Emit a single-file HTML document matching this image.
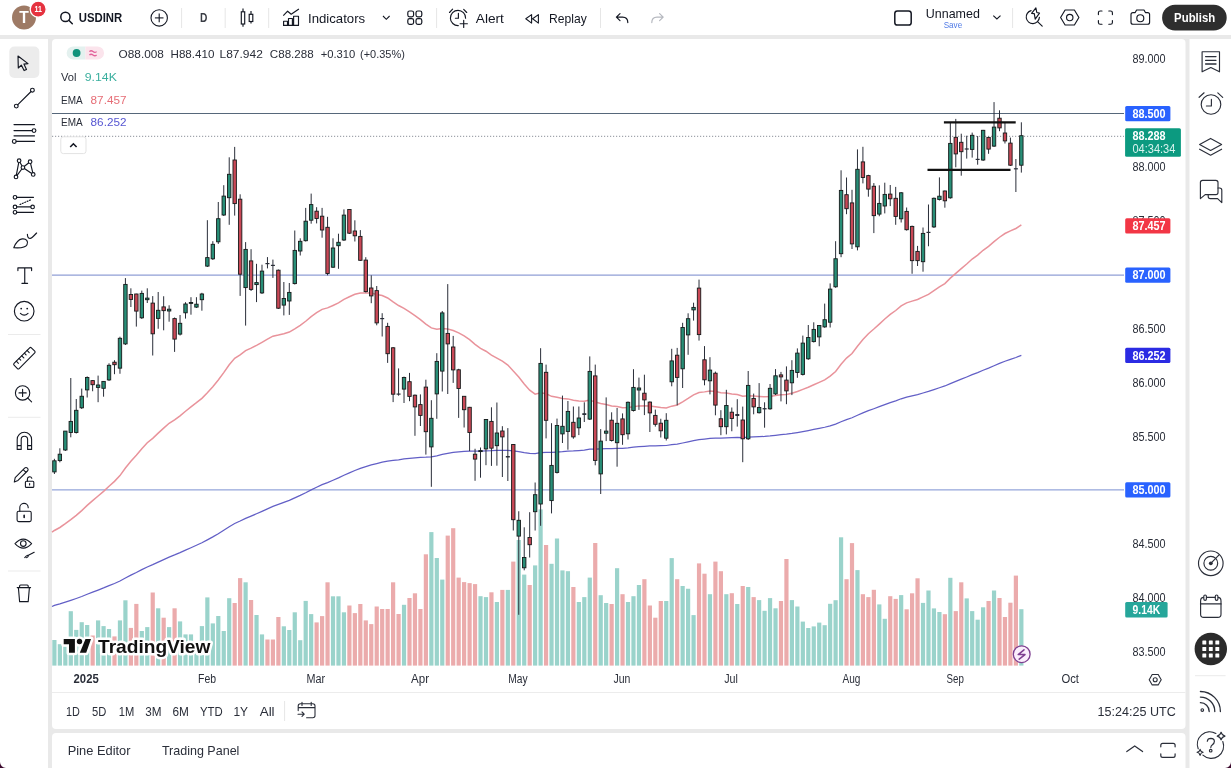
<!DOCTYPE html>
<html><head><meta charset="utf-8"><title>USDINR Chart</title>
<style>
html,body{margin:0;padding:0;width:1231px;height:768px;overflow:hidden;background:#e9e9e9;}
svg{display:block;font-family:"Liberation Sans",sans-serif;will-change:transform;}
</style></head>
<body>
<svg width="1231" height="768" viewBox="0 0 1231 768">
<!-- panels -->
<rect x="0" y="0" width="1231" height="35" fill="#ffffff"/>
<rect x="0" y="39" width="48" height="729" fill="#ffffff"/>
<rect x="52" y="39" width="1133.5" height="690" rx="4" fill="#ffffff"/>
<rect x="52" y="733" width="1133.5" height="40" rx="4" fill="#ffffff"/>
<rect x="1189.5" y="39" width="45" height="729" fill="#ffffff"/>
<line x1="52" y1="692.5" x2="1185.5" y2="692.5" stroke="#ececec" stroke-width="1"/>

<!-- chart content -->
<g id="vol"><rect x="52.3" y="640" width="4.2" height="25.6" fill="#9ad3cb"/>
<rect x="57.76" y="644.2" width="4.2" height="21.4" fill="#9ad3cb"/>
<rect x="63.23" y="646.4" width="4.2" height="19.2" fill="#9ad3cb"/>
<rect x="68.69" y="611.2" width="4.2" height="54.4" fill="#9ad3cb"/>
<rect x="74.15" y="629.9" width="4.2" height="35.7" fill="#9ad3cb"/>
<rect x="79.62" y="622.2" width="4.2" height="43.4" fill="#9ad3cb"/>
<rect x="85.08" y="625" width="4.2" height="40.6" fill="#9ad3cb"/>
<rect x="90.54" y="635.5" width="4.2" height="30.1" fill="#ebabac"/>
<rect x="96" y="620.4" width="4.2" height="45.2" fill="#9ad3cb"/>
<rect x="101.47" y="626.1" width="4.2" height="39.5" fill="#9ad3cb"/>
<rect x="106.93" y="629" width="4.2" height="36.6" fill="#9ad3cb"/>
<rect x="112.39" y="636.4" width="4.2" height="29.2" fill="#ebabac"/>
<rect x="117.86" y="620.4" width="4.2" height="45.2" fill="#9ad3cb"/>
<rect x="123.32" y="600.3" width="4.2" height="65.3" fill="#9ad3cb"/>
<rect x="128.78" y="627.9" width="4.2" height="37.7" fill="#ebabac"/>
<rect x="134.25" y="603.9" width="4.2" height="61.7" fill="#ebabac"/>
<rect x="139.71" y="631" width="4.2" height="34.6" fill="#9ad3cb"/>
<rect x="145.17" y="627.1" width="4.2" height="38.5" fill="#9ad3cb"/>
<rect x="150.63" y="592.5" width="4.2" height="73.1" fill="#ebabac"/>
<rect x="156.1" y="608.3" width="4.2" height="57.3" fill="#9ad3cb"/>
<rect x="161.56" y="617.7" width="4.2" height="47.9" fill="#ebabac"/>
<rect x="167.02" y="627.1" width="4.2" height="38.5" fill="#9ad3cb"/>
<rect x="172.49" y="608.3" width="4.2" height="57.3" fill="#ebabac"/>
<rect x="177.95" y="621.4" width="4.2" height="44.2" fill="#9ad3cb"/>
<rect x="183.41" y="634.4" width="4.2" height="31.2" fill="#9ad3cb"/>
<rect x="188.88" y="634.4" width="4.2" height="31.2" fill="#9ad3cb"/>
<rect x="194.34" y="645" width="4.2" height="20.6" fill="#9ad3cb"/>
<rect x="199.8" y="626.1" width="4.2" height="39.5" fill="#9ad3cb"/>
<rect x="205.26" y="597.4" width="4.2" height="68.2" fill="#9ad3cb"/>
<rect x="210.73" y="623.4" width="4.2" height="42.2" fill="#9ad3cb"/>
<rect x="216.19" y="616" width="4.2" height="49.6" fill="#9ad3cb"/>
<rect x="221.65" y="631" width="4.2" height="34.6" fill="#9ad3cb"/>
<rect x="227.12" y="598.2" width="4.2" height="67.4" fill="#9ad3cb"/>
<rect x="232.58" y="603" width="4.2" height="62.6" fill="#ebabac"/>
<rect x="238.04" y="578.1" width="4.2" height="87.5" fill="#ebabac"/>
<rect x="243.51" y="582.3" width="4.2" height="83.3" fill="#9ad3cb"/>
<rect x="248.97" y="600" width="4.2" height="65.6" fill="#ebabac"/>
<rect x="254.43" y="615" width="4.2" height="50.6" fill="#9ad3cb"/>
<rect x="259.89" y="634.4" width="4.2" height="31.2" fill="#9ad3cb"/>
<rect x="265.36" y="639.5" width="4.2" height="26.1" fill="#ebabac"/>
<rect x="270.82" y="639.5" width="4.2" height="26.1" fill="#ebabac"/>
<rect x="276.28" y="617" width="4.2" height="48.6" fill="#ebabac"/>
<rect x="281.75" y="626.3" width="4.2" height="39.3" fill="#9ad3cb"/>
<rect x="287.21" y="630" width="4.2" height="35.6" fill="#9ad3cb"/>
<rect x="292.67" y="612.3" width="4.2" height="53.3" fill="#9ad3cb"/>
<rect x="298.13" y="640.2" width="4.2" height="25.4" fill="#9ad3cb"/>
<rect x="303.6" y="600.9" width="4.2" height="64.7" fill="#9ad3cb"/>
<rect x="309.06" y="614.1" width="4.2" height="51.5" fill="#9ad3cb"/>
<rect x="314.52" y="622.4" width="4.2" height="43.2" fill="#ebabac"/>
<rect x="319.99" y="616.1" width="4.2" height="49.5" fill="#ebabac"/>
<rect x="325.45" y="582.3" width="4.2" height="83.3" fill="#ebabac"/>
<rect x="330.91" y="596.3" width="4.2" height="69.3" fill="#9ad3cb"/>
<rect x="336.38" y="596.3" width="4.2" height="69.3" fill="#9ad3cb"/>
<rect x="341.84" y="612.3" width="4.2" height="53.3" fill="#9ad3cb"/>
<rect x="347.3" y="605.5" width="4.2" height="60.1" fill="#ebabac"/>
<rect x="352.76" y="613.1" width="4.2" height="52.5" fill="#ebabac"/>
<rect x="358.23" y="604" width="4.2" height="61.6" fill="#ebabac"/>
<rect x="363.69" y="620.4" width="4.2" height="45.2" fill="#ebabac"/>
<rect x="369.15" y="624.1" width="4.2" height="41.5" fill="#ebabac"/>
<rect x="374.62" y="606.5" width="4.2" height="59.1" fill="#ebabac"/>
<rect x="380.08" y="609" width="4.2" height="56.6" fill="#ebabac"/>
<rect x="385.54" y="609" width="4.2" height="56.6" fill="#ebabac"/>
<rect x="391.01" y="582.3" width="4.2" height="83.3" fill="#ebabac"/>
<rect x="396.47" y="614" width="4.2" height="51.6" fill="#ebabac"/>
<rect x="401.93" y="604.8" width="4.2" height="60.8" fill="#9ad3cb"/>
<rect x="407.39" y="598" width="4.2" height="67.6" fill="#ebabac"/>
<rect x="412.86" y="593.3" width="4.2" height="72.3" fill="#ebabac"/>
<rect x="418.32" y="609" width="4.2" height="56.6" fill="#ebabac"/>
<rect x="423.78" y="554.3" width="4.2" height="111.3" fill="#ebabac"/>
<rect x="429.25" y="532.1" width="4.2" height="133.5" fill="#9ad3cb"/>
<rect x="434.71" y="558" width="4.2" height="107.6" fill="#9ad3cb"/>
<rect x="440.17" y="579.6" width="4.2" height="86" fill="#9ad3cb"/>
<rect x="445.64" y="535.6" width="4.2" height="130" fill="#ebabac"/>
<rect x="451.1" y="528.2" width="4.2" height="137.4" fill="#ebabac"/>
<rect x="456.56" y="577.6" width="4.2" height="88" fill="#ebabac"/>
<rect x="462.02" y="582.1" width="4.2" height="83.5" fill="#ebabac"/>
<rect x="467.49" y="583.1" width="4.2" height="82.5" fill="#ebabac"/>
<rect x="472.95" y="584.1" width="4.2" height="81.5" fill="#ebabac"/>
<rect x="478.41" y="596.2" width="4.2" height="69.4" fill="#9ad3cb"/>
<rect x="483.88" y="597.1" width="4.2" height="68.5" fill="#9ad3cb"/>
<rect x="489.34" y="592.3" width="4.2" height="73.3" fill="#ebabac"/>
<rect x="494.8" y="602" width="4.2" height="63.6" fill="#9ad3cb"/>
<rect x="500.27" y="589.9" width="4.2" height="75.7" fill="#ebabac"/>
<rect x="505.73" y="589.9" width="4.2" height="75.7" fill="#9ad3cb"/>
<rect x="511.19" y="561.6" width="4.2" height="104" fill="#ebabac"/>
<rect x="516.65" y="540" width="4.2" height="125.6" fill="#9ad3cb"/>
<rect x="522.12" y="574.6" width="4.2" height="91" fill="#9ad3cb"/>
<rect x="527.58" y="585" width="4.2" height="80.6" fill="#ebabac"/>
<rect x="533.04" y="565.4" width="4.2" height="100.2" fill="#9ad3cb"/>
<rect x="538.51" y="509.4" width="4.2" height="156.2" fill="#9ad3cb"/>
<rect x="543.97" y="545" width="4.2" height="120.6" fill="#ebabac"/>
<rect x="549.43" y="563.8" width="4.2" height="101.8" fill="#9ad3cb"/>
<rect x="554.9" y="538.5" width="4.2" height="127.1" fill="#9ad3cb"/>
<rect x="560.36" y="570.4" width="4.2" height="95.2" fill="#9ad3cb"/>
<rect x="565.82" y="571.2" width="4.2" height="94.4" fill="#9ad3cb"/>
<rect x="571.28" y="587" width="4.2" height="78.6" fill="#ebabac"/>
<rect x="576.75" y="602" width="4.2" height="63.6" fill="#9ad3cb"/>
<rect x="582.21" y="597.1" width="4.2" height="68.5" fill="#9ad3cb"/>
<rect x="587.67" y="577.6" width="4.2" height="88" fill="#9ad3cb"/>
<rect x="593.14" y="543" width="4.2" height="122.6" fill="#ebabac"/>
<rect x="598.6" y="595.2" width="4.2" height="70.4" fill="#9ad3cb"/>
<rect x="604.06" y="603" width="4.2" height="62.6" fill="#9ad3cb"/>
<rect x="609.53" y="604" width="4.2" height="61.6" fill="#ebabac"/>
<rect x="614.99" y="568.2" width="4.2" height="97.4" fill="#9ad3cb"/>
<rect x="620.45" y="594.2" width="4.2" height="71.4" fill="#ebabac"/>
<rect x="625.91" y="602" width="4.2" height="63.6" fill="#9ad3cb"/>
<rect x="631.38" y="596.2" width="4.2" height="69.4" fill="#9ad3cb"/>
<rect x="636.84" y="585" width="4.2" height="80.6" fill="#9ad3cb"/>
<rect x="642.3" y="579.2" width="4.2" height="86.4" fill="#ebabac"/>
<rect x="647.77" y="605.5" width="4.2" height="60.1" fill="#ebabac"/>
<rect x="653.23" y="617.7" width="4.2" height="47.9" fill="#ebabac"/>
<rect x="658.69" y="601" width="4.2" height="64.6" fill="#ebabac"/>
<rect x="664.16" y="601" width="4.2" height="64.6" fill="#9ad3cb"/>
<rect x="669.62" y="558.1" width="4.2" height="107.5" fill="#9ad3cb"/>
<rect x="675.08" y="579.2" width="4.2" height="86.4" fill="#ebabac"/>
<rect x="680.54" y="586" width="4.2" height="79.6" fill="#9ad3cb"/>
<rect x="686.01" y="588.75" width="4.2" height="76.85" fill="#9ad3cb"/>
<rect x="691.47" y="615.1" width="4.2" height="50.5" fill="#9ad3cb"/>
<rect x="696.93" y="563.4" width="4.2" height="102.2" fill="#ebabac"/>
<rect x="702.4" y="573.7" width="4.2" height="91.9" fill="#ebabac"/>
<rect x="707.86" y="594.2" width="4.2" height="71.4" fill="#9ad3cb"/>
<rect x="713.32" y="561.6" width="4.2" height="104" fill="#ebabac"/>
<rect x="718.79" y="571.2" width="4.2" height="94.4" fill="#ebabac"/>
<rect x="724.25" y="594.2" width="4.2" height="71.4" fill="#9ad3cb"/>
<rect x="729.71" y="593.2" width="4.2" height="72.4" fill="#ebabac"/>
<rect x="735.17" y="604" width="4.2" height="61.6" fill="#9ad3cb"/>
<rect x="740.64" y="586" width="4.2" height="79.6" fill="#ebabac"/>
<rect x="746.1" y="587" width="4.2" height="78.6" fill="#9ad3cb"/>
<rect x="751.56" y="597.1" width="4.2" height="68.5" fill="#ebabac"/>
<rect x="757.03" y="600.1" width="4.2" height="65.5" fill="#9ad3cb"/>
<rect x="762.49" y="610.8" width="4.2" height="54.8" fill="#9ad3cb"/>
<rect x="767.95" y="598.1" width="4.2" height="67.5" fill="#9ad3cb"/>
<rect x="773.42" y="608.3" width="4.2" height="57.3" fill="#9ad3cb"/>
<rect x="778.88" y="601" width="4.2" height="64.6" fill="#ebabac"/>
<rect x="784.34" y="559" width="4.2" height="106.6" fill="#ebabac"/>
<rect x="789.8" y="600.1" width="4.2" height="65.5" fill="#9ad3cb"/>
<rect x="795.27" y="606.5" width="4.2" height="59.1" fill="#9ad3cb"/>
<rect x="800.73" y="621.6" width="4.2" height="44" fill="#9ad3cb"/>
<rect x="806.19" y="628" width="4.2" height="37.6" fill="#9ad3cb"/>
<rect x="811.66" y="626.4" width="4.2" height="39.2" fill="#9ad3cb"/>
<rect x="817.12" y="622.6" width="4.2" height="43" fill="#9ad3cb"/>
<rect x="822.58" y="625.2" width="4.2" height="40.4" fill="#9ad3cb"/>
<rect x="828.05" y="603.8" width="4.2" height="61.8" fill="#9ad3cb"/>
<rect x="833.51" y="600.2" width="4.2" height="65.4" fill="#9ad3cb"/>
<rect x="838.97" y="537.3" width="4.2" height="128.3" fill="#9ad3cb"/>
<rect x="844.43" y="579.2" width="4.2" height="86.4" fill="#ebabac"/>
<rect x="849.9" y="543.1" width="4.2" height="122.5" fill="#ebabac"/>
<rect x="855.36" y="570.1" width="4.2" height="95.5" fill="#9ad3cb"/>
<rect x="860.82" y="594.2" width="4.2" height="71.4" fill="#ebabac"/>
<rect x="866.29" y="597.1" width="4.2" height="68.5" fill="#ebabac"/>
<rect x="871.75" y="589.8" width="4.2" height="75.8" fill="#ebabac"/>
<rect x="877.21" y="604.4" width="4.2" height="61.2" fill="#9ad3cb"/>
<rect x="882.68" y="618.8" width="4.2" height="46.8" fill="#9ad3cb"/>
<rect x="888.14" y="596.2" width="4.2" height="69.4" fill="#ebabac"/>
<rect x="893.6" y="598.9" width="4.2" height="66.7" fill="#ebabac"/>
<rect x="899.06" y="595.1" width="4.2" height="70.5" fill="#9ad3cb"/>
<rect x="904.53" y="609.3" width="4.2" height="56.3" fill="#ebabac"/>
<rect x="909.99" y="593.3" width="4.2" height="72.3" fill="#ebabac"/>
<rect x="915.45" y="578.3" width="4.2" height="87.3" fill="#ebabac"/>
<rect x="920.92" y="602.9" width="4.2" height="62.7" fill="#9ad3cb"/>
<rect x="926.38" y="590.5" width="4.2" height="75.1" fill="#9ad3cb"/>
<rect x="931.84" y="608.4" width="4.2" height="57.2" fill="#9ad3cb"/>
<rect x="937.31" y="612" width="4.2" height="53.6" fill="#9ad3cb"/>
<rect x="942.77" y="614.2" width="4.2" height="51.4" fill="#ebabac"/>
<rect x="948.23" y="577.8" width="4.2" height="87.8" fill="#9ad3cb"/>
<rect x="953.69" y="611.1" width="4.2" height="54.5" fill="#ebabac"/>
<rect x="959.16" y="582.3" width="4.2" height="83.3" fill="#ebabac"/>
<rect x="964.62" y="598.4" width="4.2" height="67.2" fill="#9ad3cb"/>
<rect x="970.08" y="611.1" width="4.2" height="54.5" fill="#9ad3cb"/>
<rect x="975.55" y="619.7" width="4.2" height="45.9" fill="#9ad3cb"/>
<rect x="981.01" y="607.3" width="4.2" height="58.3" fill="#9ad3cb"/>
<rect x="986.47" y="601" width="4.2" height="64.6" fill="#ebabac"/>
<rect x="991.94" y="590.5" width="4.2" height="75.1" fill="#9ad3cb"/>
<rect x="997.4" y="598" width="4.2" height="67.6" fill="#ebabac"/>
<rect x="1002.86" y="617" width="4.2" height="48.6" fill="#ebabac"/>
<rect x="1008.32" y="602.7" width="4.2" height="62.9" fill="#ebabac"/>
<rect x="1013.79" y="575.6" width="4.2" height="90" fill="#ebabac"/>
<rect x="1019.25" y="609.2" width="4.2" height="56.4" fill="#9ad3cb"/></g>
<!-- horizontal lines -->
<line x1="52" y1="113.5" x2="1124" y2="113.5" stroke="#56677a" stroke-width="1"/>
<line x1="52" y1="275.1" x2="1124" y2="275.1" stroke="#7486cc" stroke-width="1"/>
<line x1="52" y1="489.9" x2="1124" y2="489.9" stroke="#7b8fd2" stroke-width="1"/>
<line x1="52" y1="136.3" x2="1124" y2="136.3" stroke="#8b9099" stroke-width="1" stroke-dasharray="1.2 1.8"/>
<!-- EMAs -->
<path d="M52 532.2 L54.4 530.49 L59.86 527.49 L65.33 523.72 L70.79 519.67 L76.25 515.34 L81.72 510.63 L87.18 505.38 L92.64 500.59 L98.1 495.95 L103.57 491.34 L109.03 486.28 L114.49 481.39 L119.96 475.62 L125.42 467.99 L130.88 461.26 L136.34 455.23 L141.81 448.74 L147.27 442.71 L152.73 438.32 L158.2 433.13 L163.66 428.17 L169.12 423.31 L174.59 419.81 L180.05 415.81 L185.51 411.25 L190.97 406.86 L196.44 402.71 L201.9 398.36 L207.36 392.75 L212.83 386.79 L218.29 380.04 L223.75 372.67 L229.22 364.74 L234.68 358.28 L240.14 354.9 L245.61 350.61 L251.07 348.06 L256.53 345.31 L261.99 342.29 L267.46 339.14 L272.92 336.2 L278.38 335.1 L283.85 333.66 L289.31 332.04 L294.77 328.78 L300.24 325.33 L305.7 321.26 L311.16 316.64 L316.62 312.72 L322.09 309.38 L327.55 307.91 L333.01 305.45 L338.48 302.9 L343.94 299.39 L349.4 296.77 L354.87 294.32 L360.33 292.95 L365.79 292.91 L371.25 293.12 L376.72 294.44 L382.18 295.53 L387.64 297.98 L393.11 301.86 L398.57 305.5 L404.03 308.35 L409.5 311.82 L414.96 315.62 L420.42 319.65 L425.88 324.18 L431.35 327.89 L436.81 329.17 L442.27 328.44 L447.74 328.97 L453.2 330.54 L458.66 332.85 L464.12 335.94 L469.59 339.7 L475.05 344.33 L480.51 348.46 L485.98 351.26 L491.44 355.08 L496.9 358.12 L502.37 361.22 L507.83 365.01 L513.29 371.1 L518.75 376.92 L524.22 383.98 L529.68 390.21 L535.14 394.19 L540.61 392.79 L546.07 393.69 L551.53 396.32 L557 397.34 L562.46 398.4 L567.92 398.88 L573.38 400.33 L578.85 400.94 L584.31 401.29 L589.77 399.93 L595.24 402.09 L600.7 403.48 L606.16 404.48 L611.63 405.91 L617.09 406.61 L622.55 407.72 L628.01 407.47 L633.48 406.64 L638.94 405.88 L644.4 405.66 L649.87 405.95 L655.33 406.66 L660.79 407.58 L666.26 408.06 L671.72 406.16 L677.18 404.94 L682.64 401.81 L688.11 398.49 L693.57 394.86 L699.03 392.45 L704.5 391.88 L709.96 390.92 L715.42 391.39 L720.89 392.67 L726.35 393.02 L731.81 393.89 L737.27 394.55 L742.74 396.15 L748.2 395.63 L753.66 396.02 L759.13 396.41 L764.59 396.87 L770.05 396.43 L775.52 395.52 L780.98 394.69 L786.44 394.44 L791.9 393.3 L797.37 391.5 L802.83 389.41 L808.29 387.22 L813.76 384.81 L819.22 382.38 L824.68 379.82 L830.15 376.18 L835.61 371.45 L841.07 364.25 L846.53 358.07 L852 353.55 L857.46 346.26 L862.92 339.6 L868.39 333.67 L873.85 329.05 L879.31 324.12 L884.78 319.04 L890.24 314.36 L895.7 310.5 L901.16 305.84 L906.63 302.82 L912.09 301.14 L917.55 299.49 L923.02 296.91 L928.48 294.36 L933.94 290.58 L939.41 286.96 L944.87 283.64 L950.33 278.17 L955.79 273.34 L961.26 268.67 L966.72 264.02 L972.18 259.02 L977.65 255.14 L983.11 250.28 L988.57 246.33 L994.04 241.66 L999.5 237.24 L1004.96 233.52 L1010.42 230.89 L1015.89 228.48 L1021.35 224.87" fill="none" stroke="#e9939b" stroke-width="1.5"/>
<path d="M52 606.5 L54.4 605.45 L59.86 603.94 L65.33 602.22 L70.79 600.41 L76.25 598.5 L81.72 596.47 L87.18 594.27 L92.64 592.16 L98.1 590.06 L103.57 587.95 L109.03 585.69 L114.49 583.46 L119.96 580.98 L125.42 578 L130.88 575.18 L136.34 572.51 L141.81 569.68 L147.27 566.95 L152.73 564.61 L158.2 562.07 L163.66 559.58 L169.12 557.09 L174.59 554.93 L180.05 552.62 L185.51 550.16 L190.97 547.7 L196.44 545.27 L201.9 542.74 L207.36 539.86 L212.83 536.88 L218.29 533.67 L223.75 530.28 L229.22 526.72 L234.68 523.5 L240.14 521.03 L245.61 518.32 L251.07 516.05 L256.53 513.72 L261.99 511.31 L267.46 508.85 L272.92 506.42 L278.38 504.45 L283.85 502.42 L289.31 500.36 L294.77 497.91 L300.24 495.41 L305.7 492.74 L311.16 489.9 L316.62 487.22 L322.09 484.67 L327.55 482.58 L333.01 480.25 L338.48 477.89 L343.94 475.28 L349.4 472.88 L354.87 470.5 L360.33 468.4 L365.79 466.65 L371.25 464.96 L376.72 463.59 L382.18 462.17 L387.64 461.12 L393.11 460.46 L398.57 459.78 L404.03 458.95 L409.5 458.33 L414.96 457.83 L420.42 457.45 L425.88 457.23 L431.35 456.85 L436.81 455.91 L442.27 454.47 L447.74 453.35 L453.2 452.49 L458.66 451.83 L464.12 451.38 L469.59 451.14 L475.05 451.16 L480.51 451.1 L485.98 450.76 L491.44 450.71 L496.9 450.48 L502.37 450.3 L507.83 450.32 L513.29 450.95 L518.75 451.58 L524.22 452.56 L529.68 453.4 L535.14 453.73 L540.61 452.74 L546.07 452.32 L551.53 452.36 L557 452.01 L562.46 451.69 L567.92 451.21 L573.38 450.97 L578.85 450.53 L584.31 450.03 L589.77 449.11 L595.24 449.09 L600.7 448.92 L606.16 448.68 L611.63 448.58 L617.09 448.35 L622.55 448.26 L628.01 447.82 L633.48 447.24 L638.94 446.68 L644.4 446.26 L649.87 445.98 L655.33 445.81 L660.79 445.7 L666.26 445.5 L671.72 444.72 L677.18 444.1 L682.64 443 L688.11 441.83 L693.57 440.56 L699.03 439.58 L704.5 439.06 L709.96 438.43 L715.42 438.17 L720.89 438.11 L726.35 437.83 L731.81 437.68 L737.27 437.49 L742.74 437.56 L748.2 437.1 L753.66 436.87 L759.13 436.63 L764.59 436.39 L770.05 435.91 L775.52 435.29 L780.98 434.68 L786.44 434.19 L791.9 433.47 L797.37 432.57 L802.83 431.58 L808.29 430.55 L813.76 429.46 L819.22 428.37 L824.68 427.24 L830.15 425.83 L835.61 424.12 L841.07 421.74 L846.53 419.58 L852 417.79 L857.46 415.28 L862.92 412.89 L868.39 410.66 L873.85 408.73 L879.31 406.71 L884.78 404.63 L890.24 402.62 L895.7 400.81 L901.16 398.78 L906.63 397.15 L912.09 395.84 L917.55 394.55 L923.02 393 L928.48 391.45 L933.94 389.58 L939.41 387.73 L944.87 385.96 L950.33 383.61 L955.79 381.4 L961.26 379.2 L966.72 376.99 L972.18 374.67 L977.65 372.61 L983.11 370.27 L988.57 368.12 L994.04 365.76 L999.5 363.44 L1004.96 361.27 L1010.42 359.37 L1015.89 357.51 L1021.35 355.34" fill="none" stroke="#625fc6" stroke-width="1.25"/>
<g id="candles"><g stroke="#2a2e39" stroke-width="1"><line x1="54.4" y1="458.8" x2="54.4" y2="474"/><line x1="59.86" y1="448.3" x2="59.86" y2="462.3"/><line x1="65.33" y1="431" x2="65.33" y2="451"/><line x1="70.79" y1="378" x2="70.79" y2="437.3"/><line x1="76.25" y1="399" x2="76.25" y2="433.5"/><line x1="81.72" y1="388.6" x2="81.72" y2="409"/><line x1="87.18" y1="376.4" x2="87.18" y2="397.5"/><line x1="92.64" y1="380" x2="92.64" y2="391.25"/><line x1="98.1" y1="375.6" x2="98.1" y2="402.2"/><line x1="103.57" y1="381" x2="103.57" y2="396.7"/><line x1="109.03" y1="363.3" x2="109.03" y2="381"/><line x1="114.49" y1="360.2" x2="114.49" y2="374.2"/><line x1="119.96" y1="336.7" x2="119.96" y2="373.75"/><line x1="125.42" y1="278.1" x2="125.42" y2="345"/><line x1="130.88" y1="288.3" x2="130.88" y2="307"/><line x1="136.34" y1="293.75" x2="136.34" y2="326.6"/><line x1="141.81" y1="290.6" x2="141.81" y2="319"/><line x1="147.27" y1="288.3" x2="147.27" y2="303"/><line x1="152.73" y1="296.1" x2="152.73" y2="355.5"/><line x1="158.2" y1="292" x2="158.2" y2="328.75"/><line x1="163.66" y1="296.25" x2="163.66" y2="330.3"/><line x1="169.12" y1="305.3" x2="169.12" y2="321.7"/><line x1="174.59" y1="317.5" x2="174.59" y2="351.9"/><line x1="180.05" y1="315" x2="180.05" y2="335.5"/><line x1="185.51" y1="302.2" x2="185.51" y2="318.6"/><line x1="190.97" y1="297.2" x2="190.97" y2="314.7"/><line x1="196.44" y1="297.2" x2="196.44" y2="308"/><line x1="201.9" y1="292.8" x2="201.9" y2="310.7"/><line x1="207.36" y1="220.2" x2="207.36" y2="267"/><line x1="212.83" y1="241.2" x2="212.83" y2="260"/><line x1="218.29" y1="202" x2="218.29" y2="243.9"/><line x1="223.75" y1="185.2" x2="223.75" y2="216"/><line x1="229.22" y1="157.3" x2="229.22" y2="224.8"/><line x1="234.68" y1="146.9" x2="234.68" y2="215.6"/><line x1="240.14" y1="194.3" x2="240.14" y2="295.9"/><line x1="245.61" y1="242.1" x2="245.61" y2="325.6"/><line x1="251.07" y1="249.2" x2="251.07" y2="291"/><line x1="256.53" y1="263.8" x2="256.53" y2="302.1"/><line x1="261.99" y1="264.7" x2="261.99" y2="294"/><line x1="267.46" y1="257.1" x2="267.46" y2="268.4"/><line x1="272.92" y1="259.6" x2="272.92" y2="277.9"/><line x1="278.38" y1="269.5" x2="278.38" y2="309"/><line x1="283.85" y1="282" x2="283.85" y2="315.4"/><line x1="289.31" y1="283" x2="289.31" y2="314.9"/><line x1="294.77" y1="230.5" x2="294.77" y2="284.5"/><line x1="300.24" y1="238.3" x2="300.24" y2="255.5"/><line x1="305.7" y1="207.9" x2="305.7" y2="241.5"/><line x1="311.16" y1="193.6" x2="311.16" y2="223.7"/><line x1="316.62" y1="207.2" x2="316.62" y2="223.4"/><line x1="322.09" y1="207.9" x2="322.09" y2="237.7"/><line x1="327.55" y1="216.8" x2="327.55" y2="275.3"/><line x1="333.01" y1="238.3" x2="333.01" y2="268"/><line x1="338.48" y1="233.7" x2="338.48" y2="268.8"/><line x1="343.94" y1="209.4" x2="343.94" y2="241"/><line x1="349.4" y1="209.3" x2="349.4" y2="234"/><line x1="354.87" y1="220.3" x2="354.87" y2="241.5"/><line x1="360.33" y1="230.1" x2="360.33" y2="261"/><line x1="365.79" y1="257.2" x2="365.79" y2="292.5"/><line x1="371.25" y1="275.3" x2="371.25" y2="303.2"/><line x1="376.72" y1="286" x2="376.72" y2="325.3"/><line x1="382.18" y1="313.2" x2="382.18" y2="336.5"/><line x1="387.64" y1="322.8" x2="387.64" y2="362.9"/><line x1="393.11" y1="347" x2="393.11" y2="402.1"/><line x1="398.57" y1="368.4" x2="398.57" y2="395.7"/><line x1="404.03" y1="376.6" x2="404.03" y2="403"/><line x1="409.5" y1="372.9" x2="409.5" y2="401.2"/><line x1="414.96" y1="394.5" x2="414.96" y2="435.8"/><line x1="420.42" y1="394.4" x2="420.42" y2="426"/><line x1="425.88" y1="379.7" x2="425.88" y2="454.6"/><line x1="431.35" y1="400.2" x2="431.35" y2="486.8"/><line x1="436.81" y1="353.2" x2="436.81" y2="418.8"/><line x1="442.27" y1="311" x2="442.27" y2="391.5"/><line x1="447.74" y1="284.1" x2="447.74" y2="394"/><line x1="453.2" y1="335.9" x2="453.2" y2="382.9"/><line x1="458.66" y1="368.8" x2="458.66" y2="417.9"/><line x1="464.12" y1="396" x2="464.12" y2="427.5"/><line x1="469.59" y1="406.9" x2="469.59" y2="451.1"/><line x1="475.05" y1="448.75" x2="475.05" y2="480.8"/><line x1="480.51" y1="447.5" x2="480.51" y2="477.7"/><line x1="485.98" y1="419" x2="485.98" y2="465.2"/><line x1="491.44" y1="407.3" x2="491.44" y2="465.9"/><line x1="496.9" y1="402.5" x2="496.9" y2="465.7"/><line x1="502.37" y1="426.2" x2="502.37" y2="477"/><line x1="507.83" y1="428.1" x2="507.83" y2="481"/><line x1="513.29" y1="444" x2="513.29" y2="530.5"/><line x1="518.75" y1="511.25" x2="518.75" y2="614.8"/><line x1="524.22" y1="527.3" x2="524.22" y2="570.3"/><line x1="529.68" y1="512.2" x2="529.68" y2="557.5"/><line x1="535.14" y1="482.5" x2="535.14" y2="530.5"/><line x1="540.61" y1="348.2" x2="540.61" y2="525.8"/><line x1="546.07" y1="364.6" x2="546.07" y2="438.4"/><line x1="551.53" y1="423.2" x2="551.53" y2="513.4"/><line x1="557" y1="418.6" x2="557" y2="473.5"/><line x1="562.46" y1="395.6" x2="562.46" y2="443"/><line x1="567.92" y1="401" x2="567.92" y2="449.7"/><line x1="573.38" y1="406.5" x2="573.38" y2="438.7"/><line x1="578.85" y1="406.5" x2="578.85" y2="435.1"/><line x1="584.31" y1="402.3" x2="584.31" y2="422"/><line x1="589.77" y1="356.4" x2="589.77" y2="420"/><line x1="595.24" y1="364.6" x2="595.24" y2="465.3"/><line x1="600.7" y1="429.1" x2="600.7" y2="494"/><line x1="606.16" y1="397.4" x2="606.16" y2="441.1"/><line x1="611.63" y1="412.3" x2="611.63" y2="441.5"/><line x1="617.09" y1="408" x2="617.09" y2="466.7"/><line x1="622.55" y1="413.4" x2="622.55" y2="444.8"/><line x1="628.01" y1="401.5" x2="628.01" y2="439.5"/><line x1="633.48" y1="369.2" x2="633.48" y2="411.5"/><line x1="638.94" y1="377.6" x2="638.94" y2="409.9"/><line x1="644.4" y1="374.7" x2="644.4" y2="415.1"/><line x1="649.87" y1="401.4" x2="649.87" y2="432"/><line x1="655.33" y1="409.6" x2="655.33" y2="426.6"/><line x1="660.79" y1="418.75" x2="660.79" y2="437.5"/><line x1="666.26" y1="413.2" x2="666.26" y2="440.5"/><line x1="671.72" y1="348.8" x2="671.72" y2="386.3"/><line x1="677.18" y1="347.9" x2="677.18" y2="405.3"/><line x1="682.64" y1="322.8" x2="682.64" y2="388"/><line x1="688.11" y1="313.3" x2="688.11" y2="354.8"/><line x1="693.57" y1="302.7" x2="693.57" y2="320.6"/><line x1="699.03" y1="279.6" x2="699.03" y2="340.6"/><line x1="704.5" y1="346.1" x2="704.5" y2="385.3"/><line x1="709.96" y1="357.2" x2="709.96" y2="394.4"/><line x1="715.42" y1="371.6" x2="715.42" y2="415.3"/><line x1="720.89" y1="410.2" x2="720.89" y2="435.2"/><line x1="726.35" y1="389.8" x2="726.35" y2="434.4"/><line x1="731.81" y1="407.5" x2="731.81" y2="431.25"/><line x1="737.27" y1="399.2" x2="737.27" y2="426.6"/><line x1="742.74" y1="406.6" x2="742.74" y2="462.2"/><line x1="748.2" y1="371" x2="748.2" y2="440"/><line x1="753.66" y1="393.6" x2="753.66" y2="414.3"/><line x1="759.13" y1="383.1" x2="759.13" y2="413.5"/><line x1="764.59" y1="402.3" x2="764.59" y2="427.7"/><line x1="770.05" y1="384" x2="770.05" y2="409.8"/><line x1="775.52" y1="369.1" x2="775.52" y2="395"/><line x1="780.98" y1="371.9" x2="780.98" y2="401.4"/><line x1="786.44" y1="366.4" x2="786.44" y2="404.2"/><line x1="791.9" y1="360.2" x2="791.9" y2="395.1"/><line x1="797.37" y1="348.4" x2="797.37" y2="377.8"/><line x1="802.83" y1="335.6" x2="802.83" y2="375.5"/><line x1="808.29" y1="325" x2="808.29" y2="359.8"/><line x1="813.76" y1="322.3" x2="813.76" y2="342.5"/><line x1="819.22" y1="325" x2="819.22" y2="346.25"/><line x1="824.68" y1="303.6" x2="824.68" y2="327.8"/><line x1="830.15" y1="283.4" x2="830.15" y2="327.5"/><line x1="835.61" y1="241.2" x2="835.61" y2="287.8"/><line x1="841.07" y1="170.3" x2="841.07" y2="257.2"/><line x1="846.53" y1="177.5" x2="846.53" y2="214.2"/><line x1="852" y1="189.8" x2="852" y2="249"/><line x1="857.46" y1="149.4" x2="857.46" y2="250.4"/><line x1="862.92" y1="146.8" x2="862.92" y2="183.4"/><line x1="868.39" y1="174.8" x2="868.39" y2="196.7"/><line x1="873.85" y1="183.1" x2="873.85" y2="233.1"/><line x1="879.31" y1="185.3" x2="879.31" y2="216.25"/><line x1="884.78" y1="182.7" x2="884.78" y2="213.4"/><line x1="890.24" y1="185" x2="890.24" y2="206.1"/><line x1="895.7" y1="186.9" x2="895.7" y2="224.8"/><line x1="901.16" y1="192" x2="901.16" y2="222.5"/><line x1="906.63" y1="207.5" x2="906.63" y2="230.6"/><line x1="912.09" y1="225.6" x2="912.09" y2="273.75"/><line x1="917.55" y1="245.9" x2="917.55" y2="266"/><line x1="923.02" y1="227.5" x2="923.02" y2="271.7"/><line x1="928.48" y1="204.5" x2="928.48" y2="246.25"/><line x1="933.94" y1="197.5" x2="933.94" y2="228"/><line x1="939.41" y1="177.4" x2="939.41" y2="200.5"/><line x1="944.87" y1="190.5" x2="944.87" y2="207.7"/><line x1="950.33" y1="122.4" x2="950.33" y2="198.7"/><line x1="955.79" y1="118.9" x2="955.79" y2="167.3"/><line x1="961.26" y1="133.7" x2="961.26" y2="175.7"/><line x1="966.72" y1="135.7" x2="966.72" y2="158.6"/><line x1="972.18" y1="132.6" x2="972.18" y2="157.6"/><line x1="977.65" y1="136" x2="977.65" y2="164.7"/><line x1="983.11" y1="129.9" x2="983.11" y2="161"/><line x1="988.57" y1="136.7" x2="988.57" y2="153.8"/><line x1="994.04" y1="102.1" x2="994.04" y2="147"/><line x1="999.5" y1="110.3" x2="999.5" y2="131.2"/><line x1="1004.96" y1="122.3" x2="1004.96" y2="143.5"/><line x1="1010.42" y1="137.6" x2="1010.42" y2="166"/><line x1="1015.89" y1="159" x2="1015.89" y2="192"/><line x1="1021.35" y1="122.3" x2="1021.35" y2="172.6"/></g><g stroke="#161a1a" stroke-width="0.9"><rect x="52.7" y="460.8" width="3.4" height="11.1" fill="#288e77"/><rect x="58.16" y="454.2" width="3.4" height="6.4" fill="#288e77"/><rect x="63.63" y="431.1" width="3.4" height="18.9" fill="#288e77"/><rect x="69.09" y="421.4" width="3.4" height="11.1" fill="#288e77"/><rect x="74.55" y="410.3" width="3.4" height="22.2" fill="#288e77"/><rect x="80.02" y="396.25" width="3.4" height="11.55" fill="#288e77"/><rect x="85.48" y="377.5" width="3.4" height="12.4" fill="#288e77"/><rect x="90.94" y="380.6" width="3.4" height="4.1" fill="#c94856"/><rect x="96.4" y="385" width="3.4" height="2.4" fill="#288e77"/><rect x="101.87" y="381.4" width="3.4" height="6.9" fill="#288e77"/><rect x="107.33" y="365.3" width="3.4" height="14.6" fill="#288e77"/><rect x="112.79" y="362.2" width="3.4" height="2.5" fill="#c94856"/><rect x="118.26" y="338.3" width="3.4" height="29.85" fill="#288e77"/><rect x="123.72" y="284.4" width="3.4" height="59.5" fill="#288e77"/><rect x="129.18" y="294.5" width="3.4" height="4.9" fill="#c94856"/><rect x="134.65" y="294" width="3.4" height="17.1" fill="#c94856"/><rect x="140.11" y="293.4" width="3.4" height="24.4" fill="#288e77"/><rect x="145.57" y="298.1" width="3.4" height="1.6" fill="#288e77"/><rect x="151.03" y="303.1" width="3.4" height="30.7" fill="#c94856"/><rect x="156.5" y="310.3" width="3.4" height="8.1" fill="#288e77"/><rect x="161.96" y="306.9" width="3.4" height="3.75" fill="#c94856"/><rect x="167.42" y="309.2" width="3.4" height="1.8" fill="#288e77"/><rect x="172.89" y="318.6" width="3.4" height="20.5" fill="#c94856"/><rect x="178.35" y="323.3" width="3.4" height="10.8" fill="#288e77"/><rect x="183.81" y="304" width="3.4" height="8.8" fill="#288e77"/><rect x="189.28" y="302.5" width="3.4" height="0.9" fill="#288e77"/><rect x="194.74" y="304.2" width="3.4" height="2.9" fill="#288e77"/><rect x="200.2" y="294" width="3.4" height="5.7" fill="#288e77"/><rect x="205.66" y="257.6" width="3.4" height="8.5" fill="#288e77"/><rect x="211.13" y="244.3" width="3.4" height="14.5" fill="#288e77"/><rect x="216.59" y="218.7" width="3.4" height="23.1" fill="#288e77"/><rect x="222.05" y="196.1" width="3.4" height="18.9" fill="#288e77"/><rect x="227.52" y="174.3" width="3.4" height="23.4" fill="#288e77"/><rect x="232.98" y="160" width="3.4" height="43.6" fill="#c94856"/><rect x="238.44" y="199.2" width="3.4" height="75" fill="#c94856"/><rect x="243.91" y="249.4" width="3.4" height="38.2" fill="#288e77"/><rect x="249.37" y="260.9" width="3.4" height="28.5" fill="#c94856"/><rect x="254.83" y="282.6" width="3.4" height="2" fill="#288e77"/><rect x="260.29" y="271.1" width="3.4" height="21.8" fill="#288e77"/><rect x="265.46" y="263" width="4" height="1.2" fill="#2a2e39" stroke="none"/><rect x="270.92" y="264.8" width="4" height="1.2" fill="#2a2e39" stroke="none"/><rect x="276.68" y="270.2" width="3.4" height="38" fill="#c94856"/><rect x="282.15" y="298.5" width="3.4" height="6.6" fill="#288e77"/><rect x="287.61" y="292.4" width="3.4" height="8.6" fill="#288e77"/><rect x="293.07" y="250.4" width="3.4" height="33.2" fill="#288e77"/><rect x="298.54" y="241.3" width="3.4" height="9.7" fill="#288e77"/><rect x="304" y="221.2" width="3.4" height="19.5" fill="#288e77"/><rect x="309.46" y="204.6" width="3.4" height="15.6" fill="#288e77"/><rect x="314.92" y="211.2" width="3.4" height="7.3" fill="#c94856"/><rect x="320.39" y="216.2" width="3.4" height="13.8" fill="#c94856"/><rect x="325.85" y="227.3" width="3.4" height="46.2" fill="#c94856"/><rect x="331.31" y="248" width="3.4" height="19.2" fill="#288e77"/><rect x="336.78" y="242.3" width="3.4" height="3.4" fill="#288e77"/><rect x="342.24" y="215.1" width="3.4" height="24.9" fill="#288e77"/><rect x="347.7" y="209.5" width="3.4" height="23.7" fill="#c94856"/><rect x="353.17" y="231" width="3.4" height="4.8" fill="#c94856"/><rect x="358.63" y="236.4" width="3.4" height="23.9" fill="#c94856"/><rect x="364.09" y="260.1" width="3.4" height="31.5" fill="#c94856"/><rect x="369.55" y="288" width="3.4" height="7.9" fill="#c94856"/><rect x="375.02" y="290.6" width="3.4" height="32.3" fill="#c94856"/><rect x="380.18" y="318" width="4" height="1.2" fill="#2a2e39" stroke="none"/><rect x="385.94" y="326.4" width="3.4" height="27.3" fill="#c94856"/><rect x="391.41" y="347.8" width="3.4" height="46.4" fill="#c94856"/><rect x="396.57" y="393.5" width="4" height="1.2" fill="#2a2e39" stroke="none"/><rect x="402.33" y="377.5" width="3.4" height="11.6" fill="#288e77"/><rect x="407.8" y="381.7" width="3.4" height="14.7" fill="#c94856"/><rect x="413.26" y="395.2" width="3.4" height="11.7" fill="#c94856"/><rect x="418.72" y="404.6" width="3.4" height="10.8" fill="#c94856"/><rect x="424.18" y="387.1" width="3.4" height="44.6" fill="#c94856"/><rect x="429.65" y="418.3" width="3.4" height="28.6" fill="#288e77"/><rect x="435.11" y="361.4" width="3.4" height="32.5" fill="#288e77"/><rect x="440.57" y="312.9" width="3.4" height="58.2" fill="#288e77"/><rect x="446.04" y="333.4" width="3.4" height="10.5" fill="#c94856"/><rect x="451.5" y="347" width="3.4" height="22.9" fill="#c94856"/><rect x="456.96" y="369.8" width="3.4" height="18.7" fill="#c94856"/><rect x="462.43" y="396.3" width="3.4" height="13.4" fill="#c94856"/><rect x="467.89" y="407.3" width="3.4" height="25.2" fill="#c94856"/><rect x="473.35" y="454.2" width="3.4" height="4.9" fill="#c94856"/><rect x="478.81" y="450.6" width="3.4" height="1" fill="#288e77"/><rect x="484.28" y="419.5" width="3.4" height="29.4" fill="#288e77"/><rect x="489.74" y="421.4" width="3.4" height="26.75" fill="#c94856"/><rect x="495.2" y="433" width="3.4" height="12.7" fill="#288e77"/><rect x="500.67" y="431" width="3.4" height="5.9" fill="#c94856"/><rect x="505.83" y="456" width="4" height="1.5" fill="#2a2e39" stroke="none"/><rect x="511.59" y="444.5" width="3.4" height="75.2" fill="#c94856"/><rect x="517.05" y="520.3" width="3.4" height="15.8" fill="#288e77"/><rect x="522.52" y="557.5" width="3.4" height="10.3" fill="#288e77"/><rect x="527.98" y="537.5" width="3.4" height="7.2" fill="#c94856"/><rect x="533.44" y="494.7" width="3.4" height="17" fill="#288e77"/><rect x="538.91" y="363.4" width="3.4" height="140.6" fill="#288e77"/><rect x="544.37" y="372.3" width="3.4" height="48" fill="#c94856"/><rect x="549.83" y="465.4" width="3.4" height="35.2" fill="#288e77"/><rect x="555.3" y="425.5" width="3.4" height="46.9" fill="#288e77"/><rect x="560.76" y="426.3" width="3.4" height="7.6" fill="#288e77"/><rect x="566.22" y="411.4" width="3.4" height="20" fill="#288e77"/><rect x="571.68" y="422.3" width="3.4" height="14.6" fill="#c94856"/><rect x="577.15" y="418" width="3.4" height="9.8" fill="#288e77"/><rect x="582.31" y="413.2" width="4" height="1.8" fill="#2a2e39" stroke="none"/><rect x="588.07" y="371.4" width="3.4" height="47.7" fill="#288e77"/><rect x="593.54" y="375.9" width="3.4" height="84.5" fill="#c94856"/><rect x="599" y="441.1" width="3.4" height="32.8" fill="#288e77"/><rect x="604.46" y="431.1" width="3.4" height="2.1" fill="#288e77"/><rect x="609.93" y="420.2" width="3.4" height="20.3" fill="#c94856"/><rect x="615.39" y="423.3" width="3.4" height="19.4" fill="#288e77"/><rect x="620.85" y="418.9" width="3.4" height="15.8" fill="#c94856"/><rect x="626.31" y="402.3" width="3.4" height="31.5" fill="#288e77"/><rect x="631.78" y="387.4" width="3.4" height="23.1" fill="#288e77"/><rect x="637.24" y="388" width="3.4" height="2" fill="#288e77"/><rect x="642.7" y="393.2" width="3.4" height="6.7" fill="#c94856"/><rect x="648.17" y="402.1" width="3.4" height="10.8" fill="#c94856"/><rect x="653.63" y="415.4" width="3.4" height="8.9" fill="#c94856"/><rect x="659.09" y="423.2" width="3.4" height="7.6" fill="#c94856"/><rect x="664.56" y="420.3" width="3.4" height="17.9" fill="#288e77"/><rect x="670.02" y="360.9" width="3.4" height="20.9" fill="#288e77"/><rect x="675.48" y="355.2" width="3.4" height="22.2" fill="#c94856"/><rect x="680.94" y="327.5" width="3.4" height="41.3" fill="#288e77"/><rect x="686.41" y="318.7" width="3.4" height="16.2" fill="#288e77"/><rect x="691.87" y="307.4" width="3.4" height="2.5" fill="#288e77"/><rect x="697.33" y="288.1" width="3.4" height="46.5" fill="#c94856"/><rect x="702.8" y="359.8" width="3.4" height="20" fill="#c94856"/><rect x="708.26" y="370.1" width="3.4" height="10.7" fill="#288e77"/><rect x="713.72" y="373.2" width="3.4" height="31.9" fill="#c94856"/><rect x="719.19" y="418.75" width="3.4" height="7.95" fill="#c94856"/><rect x="724.65" y="405.5" width="3.4" height="21.2" fill="#288e77"/><rect x="730.11" y="412.2" width="3.4" height="6.3" fill="#c94856"/><rect x="735.27" y="414" width="4" height="2" fill="#2a2e39" stroke="none"/><rect x="741.04" y="420" width="3.4" height="18.8" fill="#c94856"/><rect x="746.5" y="385.4" width="3.4" height="53.4" fill="#288e77"/><rect x="751.96" y="398.4" width="3.4" height="8.5" fill="#c94856"/><rect x="757.43" y="407.5" width="3.4" height="5.2" fill="#288e77"/><rect x="762.59" y="408.1" width="4" height="1.3" fill="#2a2e39" stroke="none"/><rect x="768.35" y="388.3" width="3.4" height="20.5" fill="#288e77"/><rect x="773.82" y="375.8" width="3.4" height="18.1" fill="#288e77"/><rect x="779.28" y="374.9" width="3.4" height="2" fill="#c94856"/><rect x="784.74" y="380.1" width="3.4" height="10.8" fill="#c94856"/><rect x="790.2" y="370.4" width="3.4" height="12.4" fill="#288e77"/><rect x="795.67" y="353.1" width="3.4" height="19.4" fill="#288e77"/><rect x="801.13" y="343.1" width="3.4" height="31.3" fill="#288e77"/><rect x="806.59" y="337.5" width="3.4" height="21.3" fill="#288e77"/><rect x="812.06" y="329.4" width="3.4" height="12.2" fill="#288e77"/><rect x="817.52" y="325.5" width="3.4" height="11.4" fill="#288e77"/><rect x="822.98" y="319.7" width="3.4" height="7.2" fill="#288e77"/><rect x="828.45" y="289.1" width="3.4" height="33.1" fill="#288e77"/><rect x="833.91" y="258.75" width="3.4" height="28.05" fill="#288e77"/><rect x="839.37" y="190.4" width="3.4" height="63.3" fill="#288e77"/><rect x="844.83" y="194.7" width="3.4" height="14" fill="#c94856"/><rect x="850.3" y="202.9" width="3.4" height="41" fill="#c94856"/><rect x="855.76" y="169.3" width="3.4" height="77.5" fill="#288e77"/><rect x="861.22" y="161.9" width="3.4" height="15.6" fill="#c94856"/><rect x="866.69" y="175.6" width="3.4" height="13.5" fill="#c94856"/><rect x="872.15" y="186.25" width="3.4" height="29.4" fill="#c94856"/><rect x="877.61" y="203.4" width="3.4" height="10.7" fill="#288e77"/><rect x="883.08" y="194.4" width="3.4" height="11.6" fill="#288e77"/><rect x="888.54" y="194.1" width="3.4" height="4.7" fill="#c94856"/><rect x="894" y="198.3" width="3.4" height="18.1" fill="#c94856"/><rect x="899.46" y="192.8" width="3.4" height="26" fill="#288e77"/><rect x="904.93" y="211.4" width="3.4" height="18.3" fill="#c94856"/><rect x="910.39" y="226.4" width="3.4" height="34.25" fill="#c94856"/><rect x="915.85" y="251.4" width="3.4" height="9.25" fill="#c94856"/><rect x="921.32" y="233.4" width="3.4" height="28.3" fill="#288e77"/><rect x="926.48" y="231.8" width="4" height="1.2" fill="#2a2e39" stroke="none"/><rect x="932.24" y="198.3" width="3.4" height="28.6" fill="#288e77"/><rect x="937.71" y="196.2" width="3.4" height="3.3" fill="#288e77"/><rect x="943.17" y="191" width="3.4" height="9.8" fill="#c94856"/><rect x="948.63" y="143.4" width="3.4" height="54.4" fill="#288e77"/><rect x="954.09" y="137.3" width="3.4" height="16.6" fill="#c94856"/><rect x="959.56" y="142.3" width="3.4" height="9.4" fill="#c94856"/><rect x="964.72" y="148.4" width="4" height="1.2" fill="#2a2e39" stroke="none"/><rect x="970.48" y="135.3" width="3.4" height="14.1" fill="#288e77"/><rect x="975.65" y="158.8" width="4" height="1.2" fill="#2a2e39" stroke="none"/><rect x="981.41" y="130.3" width="3.4" height="29.7" fill="#288e77"/><rect x="986.87" y="137.4" width="3.4" height="11.7" fill="#c94856"/><rect x="992.34" y="127.1" width="3.4" height="19" fill="#288e77"/><rect x="997.8" y="118.2" width="3.4" height="9.7" fill="#c94856"/><rect x="1003.26" y="133" width="3.4" height="7.9" fill="#c94856"/><rect x="1008.72" y="143.1" width="3.4" height="22.1" fill="#c94856"/><rect x="1013.89" y="168.2" width="4" height="1.2" fill="#2a2e39" stroke="none"/><rect x="1019.65" y="135.7" width="3.4" height="29.5" fill="#288e77"/></g></g>
<!-- drawn rectangle lines -->
<line x1="943.9" y1="122.3" x2="1015.7" y2="122.3" stroke="#111" stroke-width="2.2"/>
<line x1="927.5" y1="169.9" x2="1010.5" y2="169.9" stroke="#111" stroke-width="2.2"/>


<!-- ===== TOP BAR ===== -->
<g id="topbar">
<circle cx="24" cy="17.6" r="12" fill="#9e7a65"/>
<text x="24" y="23.1" font-size="15.6" font-weight="700" fill="#fff" text-anchor="middle">T</text>
<circle cx="38.2" cy="9.2" r="8" fill="#e5323f" stroke="#fff" stroke-width="1.3"/>
<text x="38.3" y="12.4" font-size="9" font-weight="700" fill="#fff" text-anchor="middle" textLength="7.5" lengthAdjust="spacingAndGlyphs">11</text>
<g fill="none" stroke="#131722" stroke-width="1.5" stroke-linecap="round">
<circle cx="65.4" cy="16.9" r="4.6"/><line x1="68.8" y1="20.3" x2="72.3" y2="23.7"/>
</g>
<text x="78.7" y="22.2" font-size="12.8" font-weight="700" fill="#131722" textLength="43.5" lengthAdjust="spacingAndGlyphs">USDINR</text>
<g fill="none" stroke="#131722" stroke-width="1.1">
<circle cx="159.2" cy="17.9" r="8.2"/>
<line x1="154.9" y1="17.9" x2="163.5" y2="17.9"/><line x1="159.2" y1="13.6" x2="159.2" y2="22.2"/>
</g>
<g stroke="#e6e6e6" stroke-width="1">
<line x1="181.6" y1="8" x2="181.6" y2="28"/><line x1="225.2" y1="8" x2="225.2" y2="28"/>
<line x1="268.7" y1="8" x2="268.7" y2="28"/><line x1="436.6" y1="8" x2="436.6" y2="28"/>
<line x1="600.5" y1="8" x2="600.5" y2="28"/><line x1="1012.6" y1="8" x2="1012.6" y2="28"/>
</g>
<text x="200" y="22.2" font-size="12.6" font-weight="700" fill="#3a3d45" textLength="7.4" lengthAdjust="spacingAndGlyphs">D</text>
<g fill="none" stroke="#131722" stroke-width="1.15">
<line x1="243" y1="8.5" x2="243" y2="26.8"/><rect x="241.3" y="11.8" width="3.4" height="12.2" fill="#fff"/>
<line x1="251" y1="11" x2="251" y2="23.6"/><rect x="249.2" y="14.3" width="3.6" height="7.2" fill="#fff"/>
</g>
<g fill="none" stroke="#131722" stroke-width="1.15" stroke-linejoin="round">
<polyline points="283.3,15.6 287.6,11.2 291.2,14.2 298.9,9"/>
<path d="M283.6 25.2 V21.2 H287.5 V25.2 M288.5 25.2 V18.5 H292.4 V25.2 M293.6 25.2 V16.2 H298.5 V25.2 M283 25.3 H299"/>
</g>
<text x="308" y="22.6" font-size="13" fill="#131722" textLength="57.2" lengthAdjust="spacingAndGlyphs">Indicators</text>
<polyline points="383,16 386.3,19.3 389.6,16" fill="none" stroke="#131722" stroke-width="1.1"/>
<g fill="none" stroke="#131722" stroke-width="1.2">
<rect x="407.8" y="11" width="5.8" height="5.8" rx="1.8"/><rect x="416" y="11" width="5.8" height="5.8" rx="1.8"/>
<rect x="407.8" y="18.6" width="5.8" height="5.8" rx="1.8"/><rect x="416" y="18.6" width="5.8" height="5.8" rx="1.8"/>
</g>
<g fill="none" stroke="#131722" stroke-width="1.15" stroke-linecap="round">
<path d="M465.6 18.2 A7.6 7.6 0 1 0 458.3 25.6"/>
<path d="M449.5 12.5 L452.6 9.2 M463.7 9.3 L466.7 12.5"/>
<path d="M458.4 13.4 V18.2 H455.4"/>
<path d="M463.7 20.2 V27.4 M460.1 23.7 H467.4"/>
</g>
<text x="475.8" y="22.6" font-size="13" fill="#131722" textLength="28.1" lengthAdjust="spacingAndGlyphs">Alert</text>
<g fill="none" stroke="#131722" stroke-width="1.1" stroke-linejoin="round">
<path d="M525.8 18.8 L531.6 14.6 V23.1 Z M532.6 18.8 L538.4 14.6 V23.1 Z"/>
</g>
<text x="549" y="22.6" font-size="13" fill="#131722" textLength="37.7" lengthAdjust="spacingAndGlyphs">Replay</text>
<g fill="none" stroke-width="1.2" stroke-linecap="round" stroke-linejoin="round">
<path d="M620 13.6 L616.4 17.1 L620 20.6 M616.4 17.1 H622.6 Q627.8 17.1 627.8 22.6" stroke="#131722"/>
<path d="M659.6 13.6 L663.2 17.1 L659.6 20.6 M663.2 17.1 H657 Q651.8 17.1 651.8 22.6" stroke="#b5b8bf"/>
</g>
<rect x="894.8" y="10.9" width="16.4" height="14.1" rx="2.6" fill="none" stroke="#131722" stroke-width="1.5"/>
<text x="925.8" y="17.6" font-size="12.6" fill="#131722" textLength="54.1" lengthAdjust="spacingAndGlyphs">Unnamed</text>
<text x="943.7" y="27.6" font-size="9.6" fill="#4f7ae6" textLength="18.5" lengthAdjust="spacingAndGlyphs">Save</text>
<polyline points="993.3,15.6 996.9,19 1000.5,15.6" fill="none" stroke="#131722" stroke-width="1.1"/>
<g fill="none" stroke="#131722" stroke-width="1.15" stroke-linejoin="round" stroke-linecap="round">
<path d="M1031.1 10.6 A6.6 6.6 0 1 0 1039.4 17.4"/>
<line x1="1037.8" y1="21.8" x2="1042.2" y2="26.2"/>
<path d="M1035.9 7.9 L1031.6 13.4 L1034.3 13.6 L1035.2 19.1 L1039.5 13.1 L1036.8 12.5 Z"/>
<path d="M1060.6 17.5 L1065.1 10 H1074.4 L1078.9 17.5 L1074.4 25 H1065.1 Z"/>
<circle cx="1069.75" cy="17.5" r="3.2"/>
<path d="M1098.4 14.6 V12.8 Q1098.4 11 1100.2 11 H1102 M1108.8 11 H1110.6 Q1112.4 11 1112.4 12.8 V14.6 M1112.4 20.6 V22.4 Q1112.4 24.2 1110.6 24.2 H1108.8 M1102 24.2 H1100.2 Q1098.4 24.2 1098.4 22.4 V20.6"/>
<path d="M1131 14.6 Q1131 12.6 1133 12.6 H1135.2 L1136.6 10 H1144 L1145.4 12.6 H1147.6 Q1149.6 12.6 1149.6 14.6 V22.2 Q1149.6 24.2 1147.6 24.2 H1133 Q1131 24.2 1131 22.2 Z"/>
<circle cx="1140.3" cy="18.2" r="3.5"/>
</g>
<rect x="1162.1" y="4.8" width="64.6" height="25.8" rx="12.9" fill="#2e2e2e"/>
<text x="1174.1" y="22.4" font-size="12.8" font-weight="700" fill="#fff" textLength="41.1" lengthAdjust="spacingAndGlyphs">Publish</text>
</g>


<!-- ===== LEFT TOOLBAR ===== -->
<g id="lefttb">
<rect x="9.3" y="46.6" width="30" height="31.4" rx="5" fill="#ececec"/>
<g fill="none" stroke="#131722" stroke-width="1.15" stroke-linejoin="round" stroke-linecap="round">
<path d="M18 56 L18.3 68 L21.3 65.1 L24.1 70.6 L26.5 69.5 L23.9 64.1 L28 63.6 Z"/>
<line x1="17.6" y1="104.8" x2="31.1" y2="91.5"/>
<circle cx="16.3" cy="106.1" r="1.9"/><circle cx="32.4" cy="90.2" r="1.9"/>
<line x1="14" y1="124.6" x2="34.5" y2="124.6"/>
<line x1="14" y1="130.6" x2="32.1" y2="130.6"/><circle cx="34" cy="130.6" r="1.9"/>
<line x1="14" y1="135.8" x2="34.5" y2="135.8"/>
<line x1="16.2" y1="141.4" x2="34.5" y2="141.4"/><circle cx="14.3" cy="141.4" r="1.9"/>
<path d="M16 176.9 L19.1 160.7 L22.9 167.5 L30.1 161.7 L33.2 174.4 L22.9 167.5 Z"/>
<g fill="#fff"><circle cx="19.1" cy="160.7" r="1.8"/><circle cx="30.1" cy="161.7" r="1.8"/><circle cx="22.9" cy="167.5" r="1.8"/><circle cx="16" cy="176.9" r="1.8"/><circle cx="33.2" cy="174.4" r="1.8"/></g>
<circle cx="15" cy="197.3" r="1.8"/><line x1="16.8" y1="197.3" x2="33.5" y2="197.3"/>
<circle cx="15" cy="206.9" r="1.8"/><line x1="16.8" y1="206.9" x2="30.8" y2="206.9"/><circle cx="32.6" cy="206.9" r="1.8"/>
<circle cx="15" cy="212.3" r="1.8"/><line x1="16.8" y1="212.3" x2="33.5" y2="212.3"/>
<path d="M20 204.5 L31.5 199.5" stroke-dasharray="1 1.6"/>
<path d="M13.8 247.8 C15.6 243.2 18 239.4 22.2 238.9 C26.4 238.4 28.6 241.6 27 244.8 C25.6 247.6 22.4 248.4 13.8 247.8 Z"/>
<path d="M27.4 234.2 Q27.4 238.4 30.2 238.4 Q31.6 238.4 36.6 233"/>
<path d="M17.9 270.6 V267.9 H31.6 V270.6 M24.75 267.9 V283.3 M21.9 283.3 H27.6"/>
<circle cx="24.2" cy="311.2" r="9.8"/>
<path d="M20.4 313.4 Q24.2 317 28 313.4"/>
</g>
<g fill="#131722"><circle cx="21.2" cy="308.6" r="0.9"/><circle cx="27.2" cy="308.6" r="0.9"/></g>
<g stroke="#ebebeb" stroke-width="1"><line x1="8" y1="334.5" x2="40.5" y2="334.5"/><line x1="8" y1="417.3" x2="40.5" y2="417.3"/><line x1="8" y1="571" x2="40.5" y2="571"/></g>
<g fill="none" stroke="#131722" stroke-width="1.1" stroke-linejoin="round" stroke-linecap="round">
<g transform="rotate(-45 24.4 358.2)"><rect x="12.15" y="354.6" width="24.5" height="7.2" rx="1.2"/>
<path d="M16.6 354.6 V357.6 M20.4 354.6 V357 M24.2 354.6 V357.6 M28 354.6 V357 M31.8 354.6 V357.6"/></g>
<circle cx="22.6" cy="392.9" r="7.2"/><line x1="27.8" y1="398.1" x2="31.6" y2="401.9"/>
<path d="M19 392.9 H26.2 M22.6 389.3 V396.5"/>
<path d="M17.2 449.4 V439.4 A7.2 7.2 0 0 1 31.6 439.4 V449.4 H27.6 V439.4 A3.2 3.2 0 0 0 21.2 439.4 V449.4 Z M17.2 445.6 H21.2 M27.6 445.6 H31.6"/>
<path d="M14.3 482 L15.2 477.6 L24.6 468.2 Q26 466.8 27.4 468.2 Q28.8 469.6 27.4 471 L18 480.4 Z M23.2 469.6 L26 472.4"/>
<rect x="25.4" y="481.2" width="8.4" height="6.2" rx="1"/><path d="M27.4 481.2 V479 A2.3 2.3 0 0 1 31.8 478.2"/>
<line x1="29.6" y1="483.6" x2="29.6" y2="485"/>
<rect x="17.1" y="511.2" width="14.1" height="10.4" rx="1.6"/><path d="M19.8 511.2 V507.8 A4.2 4.2 0 0 1 28.2 507.4 V507.8"/>
<line x1="24.15" y1="515.4" x2="24.15" y2="517.4" stroke-width="1.6"/>
<path d="M15 543.6 Q23.3 534.6 31.6 543.6 Q23.3 552.6 15 543.6 Z"/><circle cx="23.3" cy="543.6" r="2.8"/>
<path d="M24.8 557.6 Q26.4 555 28.4 555.2 L34.2 552.2 M28.4 555.2 Q28.6 557 26.6 557.6"/>
<path d="M17.2 587.6 H30.6 M19.6 587.6 V586 Q19.6 585 20.6 585 H27.2 Q28.2 585 28.2 586 V587.6 M18.4 587.6 L19.6 601.6 H28.2 L29.4 587.6"/>
</g>
</g>


<!-- ===== LEGEND ===== -->
<g id="legend">
<path d="M73.2 46.4 H85.4 V59.5 H73.2 A6.55 6.55 0 0 1 73.2 46.4 Z" fill="#e4f1ef"/>
<path d="M85.4 46.4 H97.5 A6.55 6.55 0 0 1 97.5 59.5 H85.4 Z" fill="#fbe4ec"/>
<circle cx="76.6" cy="53" r="3.9" fill="#11937c"/>
<path d="M89.4 51.6 Q91.1 50 93 51.6 T96.6 51.6 M89.4 55 Q91.1 53.4 93 55 T96.6 55" fill="none" stroke="#e2629b" stroke-width="1.3"/>
<g font-size="11.6" fill="#2a2e39">
<text x="118.6" y="58.2" textLength="45.3" lengthAdjust="spacingAndGlyphs">O88.008</text>
<text x="170.5" y="58.2" textLength="43.9" lengthAdjust="spacingAndGlyphs">H88.410</text>
<text x="219.5" y="58.2" textLength="43.3" lengthAdjust="spacingAndGlyphs">L87.942</text>
<text x="269.8" y="58.2" textLength="43.9" lengthAdjust="spacingAndGlyphs">C88.288</text>
<text x="320.7" y="58.2" textLength="34.7" lengthAdjust="spacingAndGlyphs">+0.310</text>
<text x="360" y="58.2" textLength="44.8" lengthAdjust="spacingAndGlyphs">(+0.35%)</text>
<text x="61" y="80.9" textLength="15.5" lengthAdjust="spacingAndGlyphs">Vol</text>
<text x="61" y="103.8" textLength="21.7" lengthAdjust="spacingAndGlyphs">EMA</text>
<text x="61" y="126" textLength="21.7" lengthAdjust="spacingAndGlyphs">EMA</text>
</g>
<g font-size="11.6">
<text x="84.8" y="80.9" fill="#3aaf9e" textLength="32.1" lengthAdjust="spacingAndGlyphs">9.14K</text>
<text x="90.6" y="103.8" fill="#e66d76" textLength="35.9" lengthAdjust="spacingAndGlyphs">87.457</text>
<text x="90.6" y="126" fill="#5656d2" textLength="35.9" lengthAdjust="spacingAndGlyphs">86.252</text>
</g>
<rect x="60.8" y="136.8" width="25.2" height="16.8" rx="2.5" fill="#fff" stroke="#e3e3e3" stroke-width="1"/>
<polyline points="70.2,147 73.4,143.8 76.6,147" fill="none" stroke="#131722" stroke-width="1.6"/>
</g>

<g id="priceaxis" font-size="12" fill="#2a2e39">
<text x="1132.4" y="63.0" textLength="33.2" lengthAdjust="spacingAndGlyphs">89.000</text>
<text x="1132.4" y="170.9" textLength="33.2" lengthAdjust="spacingAndGlyphs">88.000</text>
<text x="1132.4" y="224.8" textLength="33.2" lengthAdjust="spacingAndGlyphs">87.500</text>
<text x="1132.4" y="332.7" textLength="33.2" lengthAdjust="spacingAndGlyphs">86.500</text>
<text x="1132.4" y="386.6" textLength="33.2" lengthAdjust="spacingAndGlyphs">86.000</text>
<text x="1132.4" y="440.5" textLength="33.2" lengthAdjust="spacingAndGlyphs">85.500</text>
<text x="1132.4" y="548.4" textLength="33.2" lengthAdjust="spacingAndGlyphs">84.500</text>
<text x="1132.4" y="602.3" textLength="33.2" lengthAdjust="spacingAndGlyphs">84.000</text>
<text x="1132.4" y="656.2" textLength="33.2" lengthAdjust="spacingAndGlyphs">83.500</text>
</g>

<g id="pricelabels" font-size="12" font-weight="700" fill="#fff">
<rect x="1125.2" y="105.9" width="45.2" height="15.3" rx="1.5" fill="#2962ff"/>
<text x="1132.4" y="117.8" textLength="33.2" lengthAdjust="spacingAndGlyphs">88.500</text>
<rect x="1125.1" y="128.2" width="55.8" height="28.5" rx="1.5" fill="#0c9a80"/>
<text x="1132.4" y="139.8" textLength="33.2" lengthAdjust="spacingAndGlyphs">88.288</text>
<text x="1132.4" y="153.2" textLength="43" lengthAdjust="spacingAndGlyphs" font-weight="400" fill="#d9f3ee">04:34:34</text>
<rect x="1125.2" y="218.2" width="45.2" height="15.2" rx="1.5" fill="#f23645"/>
<text x="1132.4" y="230.1" textLength="33.2" lengthAdjust="spacingAndGlyphs">87.457</text>
<rect x="1125.2" y="267.4" width="45.2" height="15.3" rx="1.5" fill="#2962ff"/>
<text x="1132.4" y="279.4" textLength="33.2" lengthAdjust="spacingAndGlyphs">87.000</text>
<rect x="1125.2" y="347.7" width="45.2" height="15.3" rx="1.5" fill="#2b2be3"/>
<text x="1132.4" y="359.6" textLength="33.2" lengthAdjust="spacingAndGlyphs">86.252</text>
<rect x="1125.2" y="482.3" width="45.2" height="15.3" rx="1.5" fill="#2962ff"/>
<text x="1132.4" y="494.2" textLength="33.2" lengthAdjust="spacingAndGlyphs">85.000</text>
<rect x="1125.2" y="602" width="42.4" height="15.4" rx="1.5" fill="#26a69a"/>
<text x="1132.6" y="614" font-weight="700" textLength="27.6" lengthAdjust="spacingAndGlyphs">9.14K</text>
</g>

<g id="timeaxis" font-size="12" fill="#2a2e39">
<text x="73.6" y="682.8" font-weight="700" textLength="25.1" lengthAdjust="spacingAndGlyphs">2025</text>
<text x="198.0" y="682.8" textLength="18.0" lengthAdjust="spacingAndGlyphs">Feb</text>
<text x="306.4" y="682.8" textLength="18.6" lengthAdjust="spacingAndGlyphs">Mar</text>
<text x="411.1" y="682.8" textLength="18.0" lengthAdjust="spacingAndGlyphs">Apr</text>
<text x="508.3" y="682.8" textLength="19.4" lengthAdjust="spacingAndGlyphs">May</text>
<text x="613.4" y="682.8" textLength="16.9" lengthAdjust="spacingAndGlyphs">Jun</text>
<text x="724.2" y="682.8" textLength="13.7" lengthAdjust="spacingAndGlyphs">Jul</text>
<text x="842.5" y="682.8" textLength="17.9" lengthAdjust="spacingAndGlyphs">Aug</text>
<text x="946.6" y="682.8" textLength="17.3" lengthAdjust="spacingAndGlyphs">Sep</text>
<text x="1061.5" y="682.8" textLength="17.5" lengthAdjust="spacingAndGlyphs">Oct</text>
</g>

<g fill="none" stroke="#2a2e39" stroke-width="1.1">
<path d="M1149.2 679.7 L1152.2 674.5 H1158.2 L1161.2 679.7 L1158.2 684.9 H1152.2 Z"/><circle cx="1155.2" cy="679.7" r="2"/>
</g>
<g id="rangebar" font-size="12.9" fill="#2a2e39">
<text x="65.9" y="715.7" textLength="13.9" lengthAdjust="spacingAndGlyphs">1D</text>
<text x="92" y="715.7" textLength="14.3" lengthAdjust="spacingAndGlyphs">5D</text>
<text x="118.7" y="715.7" textLength="15.5" lengthAdjust="spacingAndGlyphs">1M</text>
<text x="145.2" y="715.7" textLength="16.3" lengthAdjust="spacingAndGlyphs">3M</text>
<text x="172.4" y="715.7" textLength="16.4" lengthAdjust="spacingAndGlyphs">6M</text>
<text x="200" y="715.7" textLength="22.7" lengthAdjust="spacingAndGlyphs">YTD</text>
<text x="233.4" y="715.7" textLength="14.6" lengthAdjust="spacingAndGlyphs">1Y</text>
<text x="259.7" y="715.7" textLength="14.9" lengthAdjust="spacingAndGlyphs">All</text>
<text x="1097.6" y="715.8" font-size="13.6" textLength="78.2" lengthAdjust="spacingAndGlyphs">15:24:25 UTC</text>
</g>
<line x1="284.6" y1="701" x2="284.6" y2="721" stroke="#e6e6e6" stroke-width="1"/>
<g fill="none" stroke="#2a2e39" stroke-width="1.1" stroke-linecap="round" stroke-linejoin="round">
<path d="M298.2 710.6 V706 Q298.2 703.8 300.4 703.8 H312.8 Q315 703.8 315 706 V715.6 Q315 717.8 312.8 717.8 H306.6 M298.2 707.6 H315 M302 702.2 V705.4 M311.2 702.2 V705.4 M298 714.2 H304.2 M302 712 L304.2 714.2 L302 716.4"/>
</g>
<g font-size="13" fill="#2a2e39">
<text x="67.7" y="754.9" textLength="62.8" lengthAdjust="spacingAndGlyphs">Pine Editor</text>
<text x="161.9" y="754.9" textLength="77.5" lengthAdjust="spacingAndGlyphs">Trading Panel</text>
</g>
<g fill="none" stroke="#2a2e39" stroke-width="1.2" stroke-linecap="round" stroke-linejoin="round">
<polyline points="1126.8,751.6 1134.7,745.9 1142.6,751.6"/>
<path d="M1160.8 746.8 V745.3 Q1160.8 743.4 1162.7 743.4 H1173.2 Q1175.1 743.4 1175.1 745.3 V746.8 M1175.1 753.9 V755.4 Q1175.1 757.3 1173.2 757.3 H1162.7 Q1160.8 757.3 1160.8 755.4 V753.9"/>
</g>


<g id="rightsb" fill="none" stroke="#2a2e39" stroke-width="1.15" stroke-linejoin="round" stroke-linecap="round">
<path d="M1202.1 51.7 H1219.5 V71.8 L1210.8 67.5 L1202.1 71.8 Z"/>
<path d="M1205.6 56.6 H1216 M1205.6 60.3 H1216 M1205.6 64 H1216" stroke-width="1.3"/>
<circle cx="1211" cy="104.5" r="9.8"/>
<path d="M1199.1 97.3 L1204.1 92.8 M1217.8 92.8 L1222.7 97.3"/>
<path d="M1211.4 99.4 V106 H1206.4"/>
<path d="M1199.6 144.4 L1210.6 138.4 L1221.6 144.4 L1210.6 150.4 Z"/>
<path d="M1199.6 149.2 L1210.6 155.2 L1221.6 149.2"/>
<path d="M1200.4 182.6 Q1200.4 180.4 1202.6 180.4 H1215.8 Q1218 180.4 1218 182.6 V192.4 Q1218 194.6 1215.8 194.6 H1205.2 L1200.4 198.6 Z"/>
<path d="M1218 188 H1219.6 Q1221.8 188 1221.8 190.2 V202.6 L1217.6 198.6 H1210.4 Q1208.2 198.6 1208.2 196.4 V194.6"/>
<circle cx="1210.8" cy="563.3" r="12.3"/>
<circle cx="1210.8" cy="563.3" r="6.9"/>
<line x1="1210.8" y1="563.3" x2="1218.8" y2="555.1"/>
<path d="M1200.6 601 Q1200.6 597.4 1203.8 597.4 H1217.8 Q1221 597.4 1221 601 V614.2 Q1221 617.4 1217.8 617.4 H1203.8 Q1200.6 617.4 1200.6 614.2 Z"/>
<line x1="1200.6" y1="603.9" x2="1221" y2="603.9" stroke-width="1.4"/>
<rect x="1203.8" y="595" width="2.6" height="5.4" rx="1.3" fill="#fff"/><rect x="1215.3" y="595" width="2.6" height="5.4" rx="1.3" fill="#fff"/>
<path d="M1200.4 702.7 A8.8 8.8 0 0 1 1209.2 711.5 M1200.4 697.1 A14.4 14.4 0 0 1 1214.8 711.5 M1200.4 691.5 A20 20 0 0 1 1220.4 711.5" stroke-width="1.3"/>
<circle cx="1202.3" cy="710" r="1.3"/>
<path d="M1202.9 755.2 A12.4 12.4 0 0 0 1222.8 741.5"/>
<path d="M1198.2 748.8 A12.4 12.4 0 0 1 1215.9 733.5"/>
<path d="M1207.3 741.3 Q1207.6 738.4 1210.9 738.4 Q1214.4 738.6 1214.4 741.4 Q1214.3 743.4 1212.4 744.8 Q1210.8 746 1210.8 747.6"/>
<circle cx="1210.7" cy="750.7" r="1.3"/>
<path d="M1221.1 732.2 Q1221.8 735.4 1225 736.1 Q1221.8 736.8 1221.1 740 Q1220.4 736.8 1217.2 736.1 Q1220.4 735.4 1221.1 732.2 Z"/>
<path d="M1200.1 749.3 Q1200.6 751.8 1203.1 752.3 Q1200.6 752.8 1200.1 755.3 Q1199.6 752.8 1197.1 752.3 Q1199.6 751.8 1200.1 749.3 Z"/>
</g>
<circle cx="1210.8" cy="563.3" r="1.9" fill="#2a2e39"/>
<circle cx="1210.8" cy="649" r="16.2" fill="#2b2b2b"/>
<g fill="#fff"><rect x="1202.35" y="640.55" width="3.9" height="3.9" rx="0.5"/><rect x="1208.85" y="640.55" width="3.9" height="3.9" rx="0.5"/><rect x="1215.35" y="640.55" width="3.9" height="3.9" rx="0.5"/><rect x="1202.35" y="647.05" width="3.9" height="3.9" rx="0.5"/><rect x="1208.85" y="647.05" width="3.9" height="3.9" rx="0.5"/><rect x="1215.35" y="647.05" width="3.9" height="3.9" rx="0.5"/><rect x="1202.35" y="653.55" width="3.9" height="3.9" rx="0.5"/><rect x="1208.85" y="653.55" width="3.9" height="3.9" rx="0.5"/><rect x="1215.35" y="653.55" width="3.9" height="3.9" rx="0.5"/></g>
<line x1="1195" y1="675.7" x2="1225.6" y2="675.7" stroke="#ebebeb" stroke-width="1"/>


<g id="tvlogo">
<g fill="#fff" stroke="#fff" stroke-width="5" stroke-linejoin="round">
<path d="M63.7 639.1 H74.9 V652.7 H69 V644.2 H63.7 Z"/><circle cx="79.5" cy="641.5" r="2.7"/>
<path d="M85.5 639.1 H91 L86.2 652.7 H79.8 Z"/>
<text x="98" y="652.8" font-size="18.6" font-weight="700" textLength="112.4" lengthAdjust="spacingAndGlyphs">TradingView</text>
</g>
<g fill="#111">
<path d="M63.7 639.1 H74.9 V652.7 H69 V644.2 H63.7 Z"/><circle cx="79.5" cy="641.5" r="2.7"/>
<path d="M85.5 639.1 H91 L86.2 652.7 H79.8 Z"/>
<text x="98" y="652.8" font-size="18.6" font-weight="700" textLength="112.4" lengthAdjust="spacingAndGlyphs">TradingView</text>
</g>
</g>
<circle cx="1021.7" cy="654.2" r="8.4" fill="#fbeefc" stroke="#7e3f90" stroke-width="1.3"/>
<path d="M1024 649.8 L1018.2 654.6 H1025 L1019.2 659.2" fill="none" stroke="#7e3f90" stroke-width="1.5" stroke-linejoin="round" stroke-linecap="round"/>

<path d="M0 762 A6 6 0 0 0 6 768 H0 Z" fill="#3c0a2e"/>
<path d="M1231 762 A6 6 0 0 1 1225 768 H1231 Z" fill="#3c0a2e"/>
</svg>
</body></html>
